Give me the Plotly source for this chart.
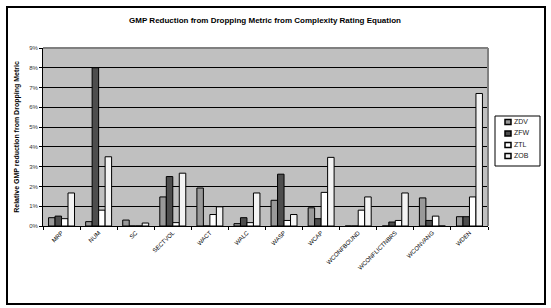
import plotly.graph_objects as go

categories = ["MRP", "NUM", "SC", "SECTVOL", "WACT", "WALC", "WASP", "WCAP",
              "WCONFBOUND", "WCONFLICTNBRS", "WCONVANG", "WDEN"]
zdv = [0.42, 0.22, 0.30, 1.47, 1.92, 0.12, 1.30, 0.92, 0.0, 0.0, 1.42, 0.47]
zfw = [0.50, 8.00, 0.0, 2.50, 0.0, 0.42, 2.62, 0.37, 0.0, 0.20, 0.28, 0.47]
ztl = [0.37, 0.80, 0.0, 0.17, 0.58, 0.17, 0.28, 1.70, 0.80, 0.28, 0.50, 1.47]
zob = [1.67, 3.50, 0.15, 2.67, 0.97, 1.67, 0.58, 3.47, 1.47, 1.67, 0.0, 6.70]
series_names = ["ZDV", "ZFW", "ZTL", "ZOB"]
series_vals = [zdv, zfw, ztl, zob]
series_cols = ["#999999", "#4d4d4d", "#ffffff", "#f4f4f4"]
y_ticks = list(range(0, 10))
y_labels = [f"{v}%" for v in y_ticks]

fig = go.Figure()
for name, vals, col in zip(series_names, series_vals, series_cols):
    fig.add_trace(go.Bar(x=categories, y=vals, name=name, showlegend=False,
                         marker=dict(color=col, line=dict(color="black", width=1))))

W, H = 551, 308
L, R, T, B = 43, 63, 48, 82
pw, ph = W - L - R, H - T - B

def px_x(p):
    return (p - L) / pw

def px_y(p):
    return (H - B - p) / ph

shapes = [
    dict(type="line", xref="paper", yref="paper", x0=0, x1=1, y0=1, y1=1,
         line=dict(color="#808080", width=2)),
    dict(type="line", xref="paper", yref="paper", x0=1, x1=1, y0=0, y1=1,
         line=dict(color="#808080", width=2)),
    dict(type="rect", xref="paper", yref="paper",
         x0=px_x(7), x1=px_x(545), y0=px_y(304), y1=px_y(7),
         line=dict(color="black", width=2), fillcolor="rgba(0,0,0,0)"),
    dict(type="rect", xref="paper", yref="paper",
         x0=px_x(495), x1=px_x(540), y0=px_y(166), y1=px_y(116),
         line=dict(color="black", width=1), fillcolor="white"),
]
annotations = []
entry_y = [122, 133.5, 145, 156]
for name, col, ey in zip(series_names, series_cols, entry_y):
    shapes.append(dict(type="rect", xref="paper", yref="paper",
                       x0=px_x(505), x1=px_x(511), y0=px_y(ey + 2.5), y1=px_y(ey - 2.5),
                       line=dict(color="black", width=1.5), fillcolor=col))
    annotations.append(dict(text=name, xref="paper", yref="paper", x=px_x(512),
                            y=px_y(ey - 1), xanchor="left", yanchor="middle",
                            showarrow=False, font=dict(size=7, color="#222")))

fig.update_layout(
    width=W, height=H,
    margin=dict(l=L, r=R, t=T, b=B),
    paper_bgcolor="white", plot_bgcolor="#c0c0c0",
    barmode="group", bargap=0.3, bargroupgap=0,
    font=dict(family="Liberation Sans, Arial, sans-serif", color="black"),
    title=dict(text="<b>GMP Reduction from Dropping Metric from Complexity Rating Equation</b>",
               x=265 / W, xanchor="center", y=1 - 20 / H, yanchor="middle",
               font=dict(size=8)),
    showlegend=False,
    xaxis=dict(type="category", tickangle=-45, tickfont=dict(size=6),
               showline=True, linecolor="black", linewidth=1, automargin=False,
               ticks="outside", ticklen=3, tickcolor="black", tickson="boundaries",
               showgrid=False, fixedrange=True),
    yaxis=dict(range=[0, 9], tickvals=y_ticks, ticktext=y_labels,
               tickfont=dict(size=6, color="#333"), automargin=False,
               showline=True, linecolor="black", linewidth=1,
               ticks="outside", ticklen=3, tickcolor="black",
               showgrid=True, gridcolor="black", gridwidth=1, zeroline=False,
               title=dict(text="<b>Relative GMP reduction from Dropping Metric</b>",
                          font=dict(size=7), standoff=8)),
    shapes=shapes,
    annotations=annotations,
)

fig.write_html("out.html", config={"displayModeBar": False},
               post_script="document.body.style.margin='0';document.body.style.overflow='hidden';")
